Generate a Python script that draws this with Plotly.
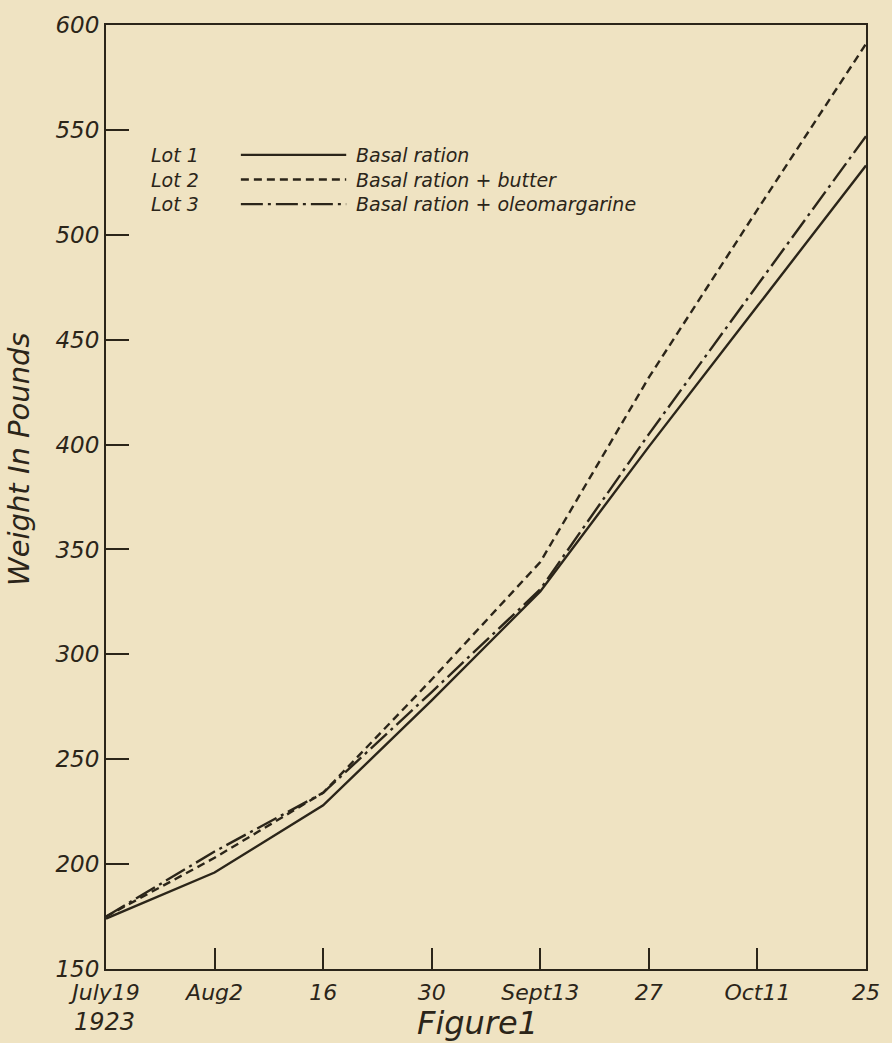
import plotly.graph_objects as go

# ---- data ----
days = [0, 14, 28, 42, 56, 70, 84, 98]          # days since July 19, 1923
tick_labels = ["July19", "Aug2", "16", "30", "Sept13", "27", "Oct11", "25"]
lot1 = [174, 196, 228, 278, 330, 399, 466, 533]   # Basal ration
lot2 = [175, 203, 234, 288, 344, 432, 512, 591]   # Basal ration + butter
lot3 = [175, 206, 234, 282, 331, 405, 476, 547]   # Basal ration + oleomargarine
y_ticks = [150, 200, 250, 300, 350, 400, 450, 500, 550, 600]

legend_lots = ["Lot 1", "Lot 2", "Lot 3"]
legend_desc = ["Basal ration", "Basal ration + butter", "Basal ration + oleomargarine"]

BG = "#efe3c2"
INK = "#2b2519"
FONT = "DejaVu Sans"

dashes = ["solid", "8px,5px", "22px,5px,3px,5px"]
series = [lot1, lot2, lot3]

fig = go.Figure()
for name, ys, d in zip(legend_lots, series, dashes):
    fig.add_trace(go.Scatter(x=days, y=ys, mode="lines", name=name,
                             line=dict(color=INK, width=2.4, dash=d),
                             showlegend=False))

W, H = 892, 1043
L, R, T, B = 106, 14, 22, 74
pw, ph = W - L - R, H - T - B

fig.update_layout(
    width=W, height=H,
    margin=dict(l=L, r=R, t=T, b=B),
    paper_bgcolor=BG, plot_bgcolor=BG,
    font=dict(family=FONT, color=INK),
)
fig.update_xaxes(range=[0, 98], tickvals=days, ticktext=tick_labels,
                 ticks="inside", ticklen=21, tickwidth=1.5, tickcolor=INK,
                 showline=True, linecolor=INK, linewidth=2, mirror=True,
                 showgrid=False, zeroline=False, ticklabelstandoff=3,
                 tickfont=dict(family=FONT, size=22, style="italic", color=INK))
fig.update_yaxes(range=[150, 600], tickvals=y_ticks,
                 ticks="inside", ticklen=23, tickwidth=1.5, tickcolor=INK,
                 showline=True, linecolor=INK, linewidth=2, mirror=True,
                 showgrid=False, zeroline=False,
                 tickfont=dict(family=FONT, size=23, style="italic", color=INK))


def py(pix):
    return 1 - (pix - T) / ph


def px(pix):
    return (pix - L) / pw


ann = []
# y-axis title
ann.append(dict(text="Weight In Pounds", x=px(17), y=py(457), xref="paper", yref="paper",
                textangle=-90, showarrow=False, xanchor="center", yanchor="middle",
                font=dict(family=FONT, size=29, style="italic", color=INK)))
# sub-label and figure caption
ann.append(dict(text="1923", x=px(104), y=py(1022), xref="paper", yref="paper",
                showarrow=False, xanchor="center", yanchor="middle",
                font=dict(family=FONT, size=24, style="italic", color=INK)))
ann.append(dict(text="Figure1", x=px(483), y=py(1023), xref="paper", yref="paper",
                showarrow=False, xanchor="center", yanchor="middle",
                font=dict(family=FONT, size=32, style="italic", color=INK)))

# custom legend (text rows follow the annotation line height)
LEG_SIZE = 19
row_h = LEG_SIZE * 1.3
mid = 177
leg_y = [mid - row_h, mid, mid + row_h]
ann.append(dict(text="<br>".join(legend_lots), x=px(150), y=py(mid), xref="paper",
                yref="paper", showarrow=False, xanchor="left", yanchor="middle",
                align="left",
                font=dict(family=FONT, size=LEG_SIZE, style="italic", color=INK)))
ann.append(dict(text="<br>".join(legend_desc), x=px(358), y=py(mid), xref="paper",
                yref="paper", showarrow=False, xanchor="left", yanchor="middle",
                align="left",
                font=dict(family=FONT, size=LEG_SIZE, style="italic", color=INK)))
shapes = []
for i in range(3):
    shapes.append(dict(type="line", xref="paper", yref="paper",
                       x0=px(243), x1=px(350), y0=py(leg_y[i]), y1=py(leg_y[i]),
                       line=dict(color=INK, width=2.4, dash=dashes[i])))

fig.update_layout(annotations=ann, shapes=shapes)
fig.write_html("out.html", config={"displayModeBar": False},
               post_script="document.body.style.margin='0';document.body.style.background='%s';" % BG)
